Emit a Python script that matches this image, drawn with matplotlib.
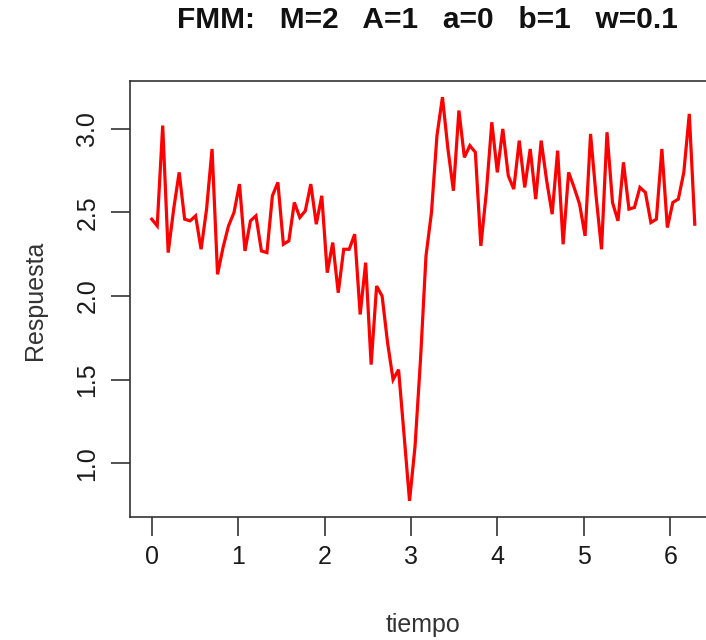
import matplotlib
matplotlib.use("Agg")
import matplotlib.pyplot as plt
import numpy as np

plt.rcParams['font.family'] = ['Liberation Sans', 'DejaVu Sans']

# Simulated FMM signal sampled on [0, 2*pi]
n_points = 100
tiempo = np.linspace(0, 2 * np.pi, n_points)
respuesta = [
    2.46, 2.42, 3.02, 2.26, 2.52, 2.74, 2.46, 2.45, 2.48, 2.28,
    2.52, 2.88, 2.13, 2.29, 2.42, 2.50, 2.67, 2.27, 2.45, 2.48,
    2.27, 2.26, 2.60, 2.68, 2.31, 2.33, 2.56, 2.47, 2.51, 2.67,
    2.43, 2.60, 2.14, 2.32, 2.02, 2.28, 2.28, 2.37, 1.89, 2.20,
    1.59, 2.06, 2.00, 1.72, 1.50, 1.56, 1.17, 0.775, 1.10, 1.62,
    2.24, 2.50, 2.96, 3.19, 2.88, 2.63, 3.11, 2.83, 2.90, 2.86,
    2.30, 2.62, 3.04, 2.74, 3.00, 2.72, 2.64, 2.93, 2.65, 2.88,
    2.58, 2.93, 2.69, 2.49, 2.87, 2.31, 2.74, 2.65, 2.55, 2.36,
    2.97, 2.60, 2.28, 2.98, 2.56, 2.45, 2.80, 2.52, 2.53, 2.65,
    2.62, 2.44, 2.46, 2.88, 2.41, 2.56, 2.58, 2.74, 3.09, 2.43,
]
x_ticks = [0, 1, 2, 3, 4, 5, 6]
y_ticks = [1.0, 1.5, 2.0, 2.5, 3.0]
titulo = "FMM:   M=2   A=1   a=0   b=1   w=0.1"

W, H = 706, 640
fig = plt.figure(figsize=(W / 100, H / 100), dpi=100)
left, right, top, bottom = 130, 716.5, 81, 517
ax = fig.add_axes([left / W, 1 - bottom / H, (right - left) / W, (bottom - top) / H])

ax.plot(tiempo, respuesta, color='#ff0000', lw=2.3, solid_joinstyle='miter')

# R-style 4% padding on both axes
x0, x1 = tiempo.min(), tiempo.max()
y0, y1 = min(respuesta), max(respuesta)
px, py = 0.04 * (x1 - x0), 0.04 * (y1 - y0)
ax.set_xlim(x0 - px, x1 + px)
ax.set_ylim(y0 - py, y1 + py)

ax.set_xticks(x_ticks)
ax.set_xticklabels([str(t) for t in x_ticks])
ax.set_yticks(y_ticks)
ax.set_yticklabels([f"{t:.1f}" for t in y_ticks], rotation=90, va='center')

ax.tick_params(axis='both', direction='out', length=14, width=1.1,
               colors='#222222', labelcolor='#1a1a1a', labelsize=18)
ax.tick_params(axis='x', pad=6)
ax.tick_params(axis='y', pad=8)
for s in ax.spines.values():
    s.set_linewidth(1.2)
    s.set_color('#333333')

fig.text(35 / W, 1 - 300 / H, "Respuesta", rotation=90, ha='center', va='center',
         fontsize=18, color='#333333')
fig.text(423 / W, 1 - 625 / H, "tiempo", ha='center', va='center',
         fontsize=18, color='#333333')
fig.text(427 / W, 1 - 20 / H, titulo, ha='center', va='center',
         fontsize=21.5, fontweight='bold', color='#111111')

fig.savefig("out.png", dpi=100)
